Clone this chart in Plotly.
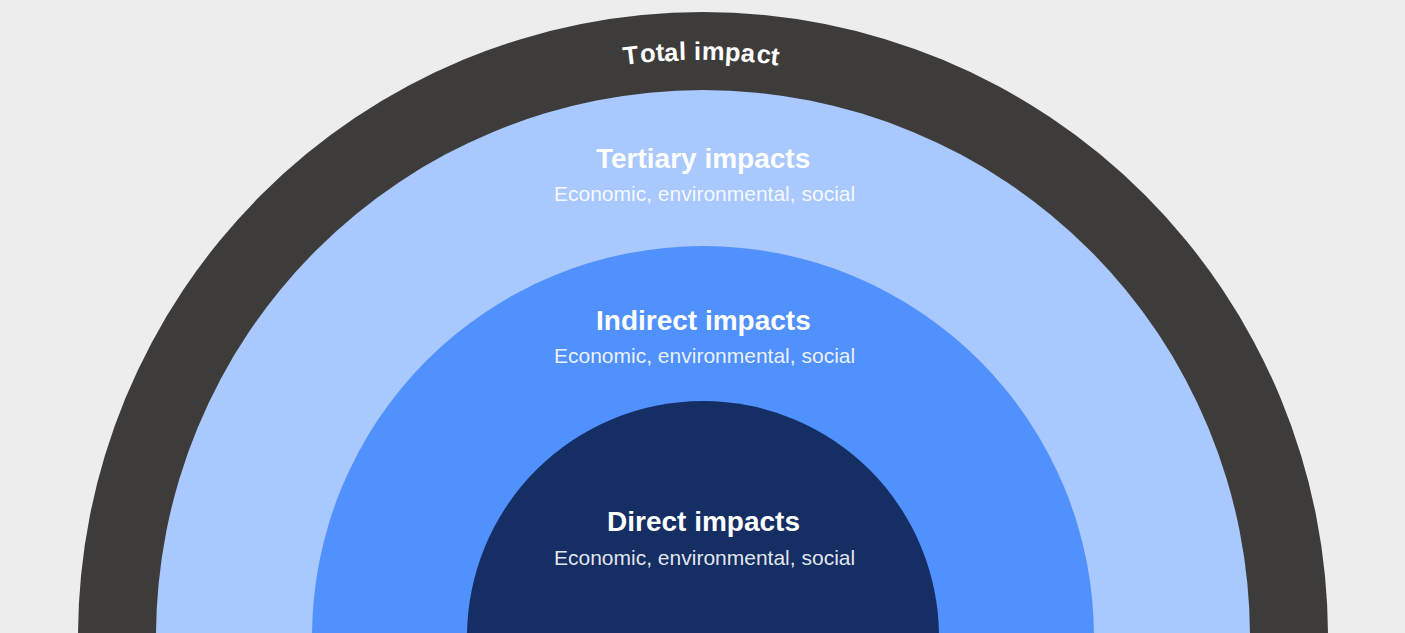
import math
import plotly.graph_objects as go

# ---- data ----
ring_names = ["Total impact", "Tertiary impacts", "Indirect impacts", "Direct impacts"]
ring_radii = [625, 547, 391, 236]
ring_colors = ["#3d3c3a", "#a8c8fe", "#5191fe", "#152e64"]
subtitle = "Economic, environmental, social"

# ---- layout constants ----
W, H = 1405, 633
CX, CY = 703, 637
BG = "#ededed"
FONT = "Liberation Sans"
title_y = [None, 158, 320, 521]
sub_y = [None, 193, 355, 557]

fig = go.Figure()
fig.add_trace(go.Scatter(x=[CX], y=[CY], mode="markers", marker=dict(opacity=0),
                         hoverinfo="skip", showlegend=False))

shapes = []
for r, c in zip(ring_radii, ring_colors):
    shapes.append(dict(type="circle", xref="x", yref="y",
                       x0=CX - r, x1=CX + r, y0=CY - r, y1=CY + r,
                       fillcolor=c, line=dict(width=0), layer="below"))

annotations = []
# curved outer title, letter by letter along the arc
txt = ring_names[0]
widths = {"T": 611, "o": 611, "t": 333, "a": 556, "l": 278, " ": 278, "i": 278,
          "m": 889, "p": 611, "c": 556}
ws = [widths[ch] for ch in txt]
total = sum(ws)
span = 157.0
r_text = (ring_radii[0] + ring_radii[1]) / 2.0 - 0
cum = 0
for ch, w in zip(txt, ws):
    s = (cum + w / 2.0) / total * span - span / 2.0
    cum += w
    if ch == " ":
        continue
    th = s / r_text
    x = CX - 1.5 + r_text * math.sin(th)
    y = CY - r_text * math.cos(th)
    annotations.append(dict(x=x, y=y, xref="x", yref="y", text="<b>%s</b>" % ch,
                            showarrow=False, xanchor="center", yanchor="middle",
                            textangle=math.degrees(th),
                            font=dict(family=FONT, size=25.5, color="white")))

for i in range(1, len(ring_names)):
    annotations.append(dict(x=CX, y=title_y[i], xref="x", yref="y",
                            text="<b>%s</b>" % ring_names[i], showarrow=False,
                            xanchor="center", yanchor="middle",
                            font=dict(family=FONT, size=28, color="white")))
    annotations.append(dict(x=CX + 1, y=sub_y[i], xref="x", yref="y",
                            text=subtitle, showarrow=False,
                            xanchor="center", yanchor="middle",
                            font=dict(family=FONT, size=21, color="rgba(255,255,255,0.9)")))

fig.update_layout(
    width=W, height=H, margin=dict(l=0, r=0, t=0, b=0),
    paper_bgcolor=BG, plot_bgcolor=BG,
    xaxis=dict(range=[0, W], visible=False, fixedrange=True),
    yaxis=dict(range=[H, 0], visible=False, fixedrange=True),
    shapes=shapes, annotations=annotations, showlegend=False,
)

fig.write_html("out.html", config={"displayModeBar": False},
               post_script="document.body.style.margin='0';document.body.style.overflow='hidden';")
